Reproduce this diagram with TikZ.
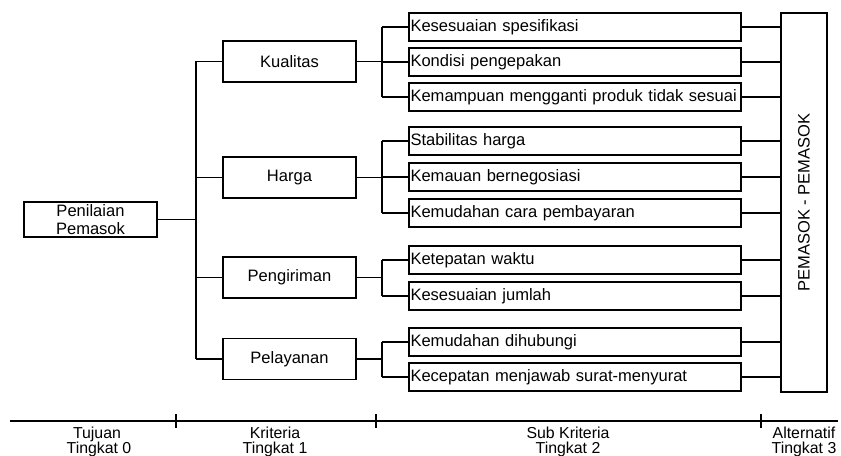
\documentclass[tikz,border=0pt]{standalone}
\usepackage{fontspec}
\setmainfont{Liberation Sans}
\begin{document}
\begin{tikzpicture}[x=0.75pt,y=-0.75pt,
  every node/.style={font=\fontsize{12.4}{13}\selectfont},
  line/.style={line width=0.8pt},
  goalbox/.style={draw,line width=0.8pt,minimum width=133*0.75pt,minimum height=35*0.75pt,inner sep=0pt,align=center,font=\fontsize{12.4}{13}\selectfont},
  critbox/.style={draw,line width=0.8pt,minimum width=133*0.75pt,minimum height=41*0.75pt,inner sep=0pt},
  subbox/.style={draw,line width=0.8pt,text width=329*0.75pt,inner xsep=1.5*0.75pt,inner ysep=0pt,minimum height=28*0.75pt,align=left},
  altbox/.style={draw,line width=0.8pt,minimum width=46*0.75pt,minimum height=379*0.75pt,inner sep=0pt},
  axislabel/.style={anchor=base,inner sep=0pt,font=\fontsize{11.9}{12}\selectfont}
]
\useasboundingbox (0,0) rectangle (841,456);

% goal
\node[goalbox] (goal) at (90.5,219.5) {Penilaian\\Pemasok};

% criteria
\node[critbox] (c1) at (289.5,61.5) {Kualitas};
\node[critbox] (c2) at (289.5,177.5) {Harga};
\node[critbox] (c3) at (289.5,277.5) {Pengiriman};
\node[critbox] (c4) at (289.5,359) {Pelayanan};

% sub criteria
\node[subbox] (s1) at (575,27) {Kesesuaian spesifikasi};
\node[subbox] (s2) at (575,62) {Kondisi pengepakan};
\node[subbox] (s3) at (575,97) {Kemampuan mengganti produk tidak sesuai};
\node[subbox] (s4) at (575,141) {Stabilitas harga};
\node[subbox] (s5) at (575,177) {Kemauan bernegosiasi};
\node[subbox] (s6) at (575,213) {Kemudahan cara pembayaran};
\node[subbox] (s7) at (575,260) {Ketepatan waktu};
\node[subbox] (s8) at (575,296) {Kesesuaian jumlah};
\node[subbox] (s9) at (575,342) {Kemudahan dihubungi};
\node[subbox] (s10) at (575,377) {Kecepatan menjawab surat-menyurat};

% alternative
\node[altbox] (alt) at (804,202.5) {\rotatebox{90}{PEMASOK - PEMASOK}};

% trunk
\coordinate (t) at (196,0);
\coordinate (b) at (382,0);
\draw[line] (goal.east) -- (goal.east -| t);
\draw[line] (c1.west -| t) -- (c4.west -| t);
\foreach \c in {c1,c2,c3,c4} {
  \draw[line] (\c.west -| t) -- (\c.west);
}

% brackets
\draw[line] (c1.east) -- (c1.east -| b);
\draw[line] (s1.west -| b) -- (s3.west -| b);
\draw[line] (c2.east) -- (c2.east -| b);
\draw[line] (s4.west -| b) -- (s6.west -| b);
\draw[line] (c3.east) -- (c3.east -| b);
\draw[line] (s7.west -| b) -- (s8.west -| b);
\draw[line] (c4.east) -- (c4.east -| b);
\draw[line] (s9.west -| b) -- (s10.west -| b);
\foreach \s in {s1,s2,s3,s4,s5,s6,s7,s8,s9,s10} {
  \draw[line] (\s.west -| b) -- (\s.west);
  \draw[line] (\s.east) -- (\s.east -| alt.west);
}

% axis
\draw[line] (10,421) -- (838,421);
\foreach \xx in {176,376,761} {
  \draw[line] (\xx,414) -- (\xx,428);
}
\node[axislabel] (l0a) at (97,438.5) {Tujuan};
\node[axislabel] (l0b) at (99,453.5) {Tingkat 0};
\node[axislabel] (l1a) at (275,438.5) {Kriteria};
\node[axislabel] (l1b) at (275,453.5) {Tingkat 1};
\node[axislabel] (l2a) at (568,438.5) {Sub Kriteria};
\node[axislabel] (l2b) at (568,453.5) {Tingkat 2};
\node[axislabel] (l3a) at (804,438.5) {Alternatif};
\node[axislabel] (l3b) at (804,453.5) {Tingkat 3};
\end{tikzpicture}
\end{document}
